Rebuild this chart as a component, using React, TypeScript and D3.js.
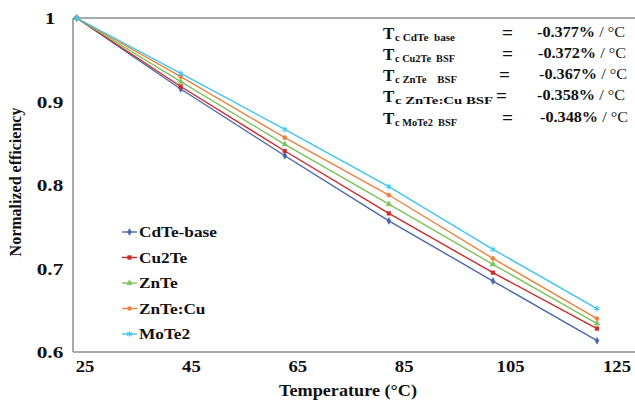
import React from "react";
import * as d3 from "d3";

const temps = [25, 45, 65, 85, 105, 125];
const xTickLabels = ["25", "45", "65", "85", "105", "125"];
const yTicks = [1, 0.9, 0.8, 0.7, 0.6];
const yTickLabels = ["1", "0.9", "0.8", "0.7", "0.6"];

const seriesNames = ["CdTe-base", "Cu2Te", "ZnTe", "ZnTe:Cu", "MoTe2"];
const cdte = [1, 0.915, 0.835, 0.757, 0.685, 0.6135];
const cu2te = [1, 0.918, 0.8407, 0.766, 0.695, 0.628];
const znte = [1, 0.9237, 0.8487, 0.777, 0.705, 0.634];
const znteCu = [1, 0.9297, 0.8567, 0.788, 0.712, 0.64];
const mote2 = [1, 0.9338, 0.8667, 0.798, 0.723, 0.652];
const seriesValues = [cdte, cu2te, znte, znteCu, mote2];
const colors = ["#4A67A8", "#CC2A2C", "#7DC15B", "#E8823F", "#3EC4F0"];
const markers = ["diamond", "square", "triangle", "circle", "asterisk"];

const tcSubs = ["c CdTe  base", "c Cu2Te  BSF", "c ZnTe    BSF", "c ZnTe:Cu BSF", "c MoTe2  BSF"];
const tcValues = ["-0.377%", "-0.372%", "-0.367%", "-0.358%", "-0.348%"];
const xTitle = "Temperature (°C)";
const yTitle = "Normalized efficiency";

const FONT = "Liberation Serif";

const L = 73, T = 18, B = 352, R = 635;

function Marker({ type, x, y, color }: { type: string; x: number; y: number; color: string }) {
  const symMap: Record<string, any> = {
    diamond: d3.symbolDiamond,
    square: d3.symbolSquare,
    triangle: d3.symbolTriangle,
    circle: d3.symbolCircle,
    asterisk: d3.symbolAsterisk,
  };
  const size = type === "asterisk" ? 22 : 14;
  const path = d3.symbol().type(symMap[type]).size(size)() as string;
  if (type === "asterisk") {
    return <path d={path} transform={`translate(${x},${y})`} fill="none" stroke={color} strokeWidth={1.1} />;
  }
  return <path d={path} transform={`translate(${x},${y})`} fill={color} stroke={color} strokeWidth={0.5} />;
}

export default function App() {
  const x = d3.scaleLinear().domain([25, 125]).range([76.7, 597]);
  const y = d3.scaleLinear().domain([0.6, 1]).range([B, T]);
  const xLab = d3.scalePoint<string>().domain(xTickLabels).range([85, 617]);
  const legendY = d3.scalePoint<string>().domain(seriesNames).range([232, 334]);
  const rowY = d3.scaleLinear().domain([0, 4]).range([39, 123.5]);

  const line = d3
    .line<number>()
    .x((_, i) => x(temps[i]))
    .y((d) => y(d));

  const eqX = [502, 502, 499, 496, 502];
  const subLen = [60, 60, 62, 98, 62];
  const valX = [537, 538, 539, 537, 540];

  return (
    <svg
      width={635}
      height={404}
      style={{ position: "absolute", left: 0, top: 0, background: "#fff", fontFamily: FONT }}
    >
      <rect x={0} y={0} width={635} height={404} fill="#fff" />
      {/* frame */}
      <line x1={L} x2={R} y1={T} y2={T} stroke="#8c8c8c" strokeWidth={1.5} />
      <line x1={L} x2={L} y1={T} y2={B} stroke="#8c8c8c" strokeWidth={1.5} />
      <line x1={L} x2={R} y1={B} y2={B} stroke="#8c8c8c" strokeWidth={1.5} />

      {/* y tick labels */}
      {yTicks.map((t, i) => (
        <g key={t} transform={`translate(50,${y(t) + 6}) scale(1.25,1)`}>
          <text textAnchor="middle" fontSize={17} fontWeight="bold" fill="#111" fontFamily={FONT}>
            {yTickLabels[i]}
          </text>
        </g>
      ))}
      {/* x tick labels */}
      {xTickLabels.map((t) => (
        <g key={t} transform={`translate(${xLab(t)},372) scale(1.1,1)`}>
          <text textAnchor="middle" fontSize={17} fontWeight="bold" fill="#111" fontFamily={FONT}>
            {t}
          </text>
        </g>
      ))}
      {/* axis titles */}
      <text
        x={279}
        y={396}
        fontSize={16}
        fontWeight="bold"
        fill="#111"
        fontFamily={FONT}
        textLength={138}
        lengthAdjust="spacingAndGlyphs"
      >
        {xTitle}
      </text>
      <text
        transform={`translate(21,182) rotate(-90)`}
        textAnchor="middle"
        fontSize={16}
        fontWeight="bold"
        fill="#111"
        fontFamily={FONT}
      >
        {yTitle}
      </text>

      {/* series */}
      {seriesValues.map((vals, si) => (
        <g key={seriesNames[si]}>
          <path d={line(vals) as string} fill="none" stroke={colors[si]} strokeWidth={1.4} />
          {vals.map((v, i) => (
            <Marker key={i} type={markers[si]} x={x(temps[i])} y={y(v)} color={colors[si]} />
          ))}
        </g>
      ))}

      {/* legend */}
      {seriesNames.map((n, si) => {
        const ly = legendY(n) as number;
        return (
          <g key={n}>
            <line x1={122} x2={137} y1={ly} y2={ly} stroke={colors[si]} strokeWidth={1.4} />
            <Marker type={markers[si]} x={129.5} y={ly} color={colors[si]} />
            <g transform={`translate(139,${ly + 5}) scale(1.15,1)`}>
              <text fontSize={15} fontWeight="bold" fill="#111" fontFamily={FONT}>
                {n}
              </text>
            </g>
          </g>
        );
      })}

      {/* Tc annotations */}
      {tcValues.map((v, i) => {
        const by = rowY(i);
        return (
          <g key={i} fill="#111" fontFamily={FONT}>
            <text x={383} y={by} fontSize={17} fontWeight="bold">
              T
            </text>
            <text
              x={395}
              y={by + 2}
              fontSize={11}
              fontWeight="bold"
              textLength={subLen[i]}
              lengthAdjust="spacingAndGlyphs"
              style={{ whiteSpace: "pre" }}
            >
              {tcSubs[i]}
            </text>
            <text x={eqX[i]} y={by} fontSize={19} fontWeight="bold" textLength={11} lengthAdjust="spacingAndGlyphs">
              =
            </text>
            <text
              x={valX[i]}
              y={by - 2}
              fontSize={14}
              textLength={88}
              lengthAdjust="spacingAndGlyphs"
              style={{ whiteSpace: "pre" }}
            >
              <tspan fontWeight="bold">{v}</tspan>
              <tspan> / °C</tspan>
            </text>
          </g>
        );
      })}
    </svg>
  );
}
